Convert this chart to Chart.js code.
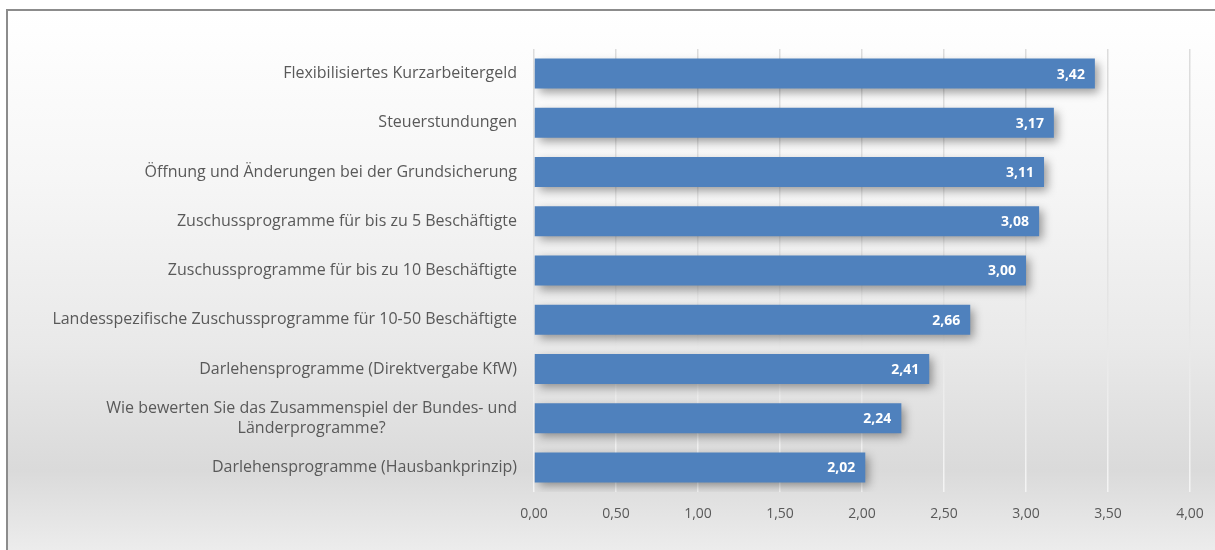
<!DOCTYPE html>
<html>
<head>
<meta charset="utf-8">
<script src="https://cdn.jsdelivr.net/npm/chart.js@4"></script>
<style>
  html, body { margin: 0; padding: 0; background: #ffffff; overflow: hidden; }
  #frame {
    position: absolute; left: 6px; top: 9px; width: 1250px; height: 560px;
    border: 2px solid #8c8c8c;
    background: linear-gradient(to bottom, #ffffff 0%, #f6f6f6 30%, #e9e9e9 60%, #dadada 82%, #f1f1f1 100%);
  }
  #wrap { position: absolute; left: 0; top: 0; width: 1215px; height: 550px; }
</style>
</head>
<body>
<div id="frame"></div>
<div id="wrap"><canvas id="chart" width="1215" height="550"></canvas></div>
<script>
// Data
let categories = [
    "Flexibilisiertes Kurzarbeitergeld",
    "Steuerstundungen",
    "Öffnung und Änderungen bei der Grundsicherung",
    "Zuschussprogramme für bis zu 5 Beschäftigte",
    "Zuschussprogramme für bis zu 10 Beschäftigte",
    "Landesspezifische Zuschussprogramme für 10-50 Beschäftigte",
    "Darlehensprogramme (Direktvergabe KfW)",
    ["Wie bewerten Sie das Zusammenspiel der Bundes- und", "Länderprogramme?"],
    "Darlehensprogramme (Hausbankprinzip)"
];
let ratings = [3.42, 3.17, 3.11, 3.08, 3.00, 2.66, 2.41, 2.24, 2.02];
let axisMin = 0;
let axisMax = 4;
let axisStep = 0.5;

function fmt(v) {
    return Number(v).toFixed(2).replace(".", ",");
}

const labelFont = "16px 'Open Sans'";
const textColor = "#595959";

// bar shadow + value labels
const barDecor = {
    id: "barDecor",
    beforeDatasetsDraw(chart) {
        let ctx = chart.ctx;
        ctx.save();
        ctx.shadowColor = "rgba(0,0,0,0.38)";
        ctx.shadowBlur = 9;
        ctx.shadowOffsetX = 4;
        ctx.shadowOffsetY = 4;
    },
    afterDatasetsDraw(chart) {
        let ctx = chart.ctx;
        ctx.restore();
        ctx.save();
        ctx.font = "bold 14px 'Open Sans'";
        ctx.fillStyle = "#ffffff";
        ctx.textAlign = "right";
        ctx.textBaseline = "middle";
        chart.getDatasetMeta(0).data.forEach((bar, i) => {
            ctx.fillText(fmt(ratings[i]), bar.x - 10, bar.y + 1);
        });
        ctx.restore();
    }
};

// category labels drawn so that wrapped lines are centred on each other
const catLabels = {
    id: "catLabels",
    afterDraw(chart) {
        let ctx = chart.ctx;
        let yScale = chart.scales.y;
        let right = chart.chartArea.left - 17;
        ctx.save();
        ctx.font = labelFont;
        ctx.fillStyle = textColor;
        ctx.textBaseline = "middle";
        categories.forEach((label, i) => {
            let y = yScale.getPixelForTick(i);
            let lines = Array.isArray(label) ? label : [label];
            let widths = lines.map(l => ctx.measureText(l).width);
            let maxW = Math.max(...widths);
            let center = right - maxW / 2;
            let lineH = 20;
            let top = y - (lines.length - 1) * lineH / 2;
            ctx.textAlign = "center";
            lines.forEach((l, j) => ctx.fillText(l, center, top + j * lineH));
        });
        ctx.restore();
    }
};

new Chart(document.getElementById("chart"), {
    type: "bar",
    data: {
        labels: categories,
        datasets: [{
            data: ratings,
            backgroundColor: "#4f81bd",
            borderWidth: 0,
            barPercentage: 0.61,
            categoryPercentage: 1
        }]
    },
    options: {
        indexAxis: "y",
        responsive: false,
        animation: false,
        layout: { padding: { top: 49, right: 25, left: 0, bottom: 0 } },
        plugins: {
            legend: { display: false },
            tooltip: { enabled: false }
        },
        scales: {
            x: {
                min: axisMin,
                max: axisMax,
                ticks: {
                    stepSize: axisStep,
                    padding: 14,
                    color: textColor,
                    font: { family: "'Open Sans'", size: 14 },
                    callback: v => fmt(v)
                },
                grid: {
                    drawTicks: false,
                    lineWidth: 1.5,
                    color: ctx => {
                        let c = ctx.chart;
                        if (!c.chartArea) return "#e6e6e6";
                        let g = c.ctx.createLinearGradient(0, c.chartArea.top, 0, c.chartArea.bottom);
                        g.addColorStop(0, "#dcdcdc");
                        g.addColorStop(0.5, "#e2e2e2");
                        g.addColorStop(1, "#f4f4f4");
                        return g;
                    }
                },
                border: { display: false },
                afterFit: s => {
                    s.height = 58;
                    s.paddingLeft = 0;
                    s.paddingRight = 0;
                }
            },
            y: {
                ticks: { display: false },
                grid: { display: false, drawTicks: false },
                border: { display: false },
                afterFit: s => { s.width = 534; }
            }
        }
    },
    plugins: [barDecor, catLabels]
});
</script>
</body>
</html>
